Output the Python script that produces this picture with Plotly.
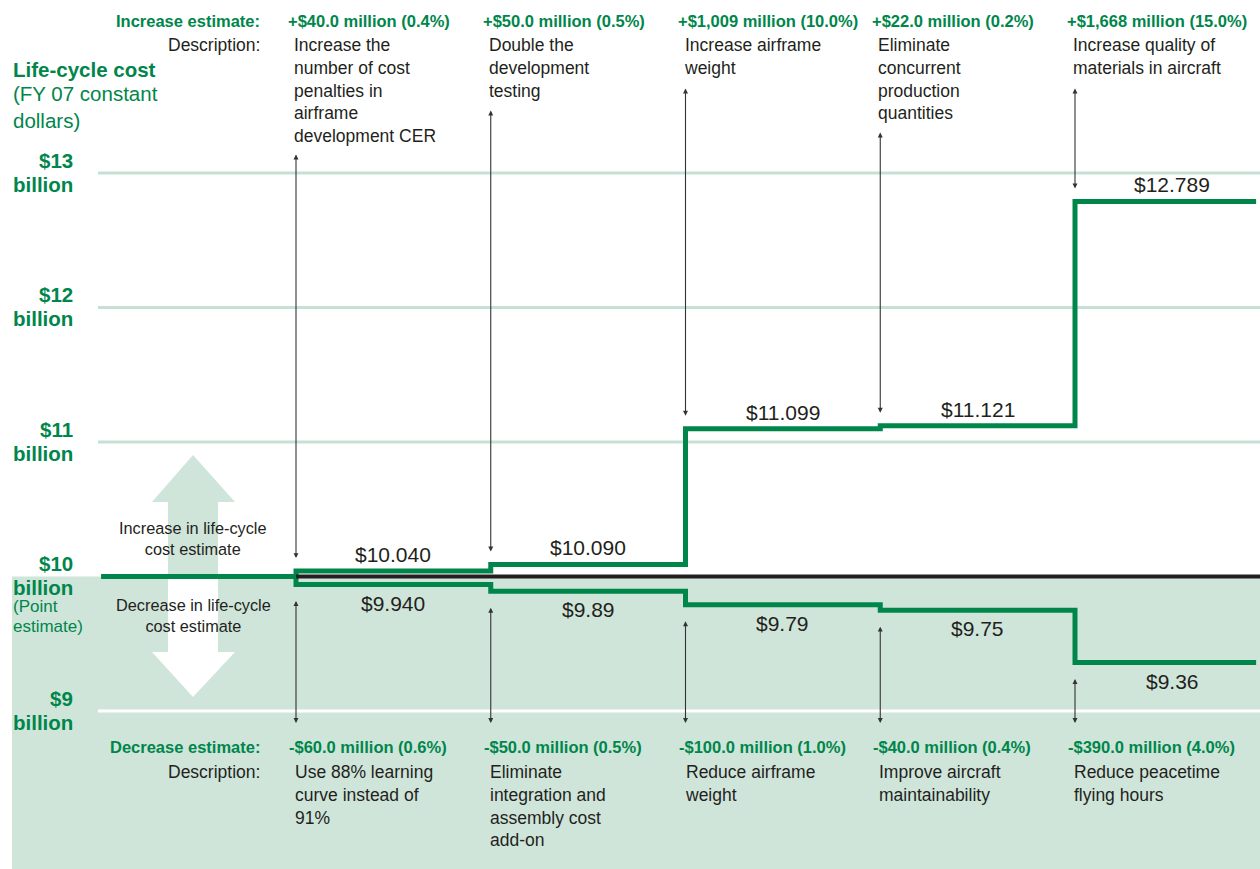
import plotly.graph_objects as go

# step 0 = point estimate, steps 1-5 = each sensitivity change
steps = [0, 1, 2, 3, 4, 5]
upper_cost = [10.0, 10.040, 10.090, 11.099, 11.121, 12.789]
lower_cost = [10.0, 9.940, 9.89, 9.79, 9.75, 9.36]
upper_labels = ["$10.040", "$10.090", "$11.099", "$11.121", "$12.789"]
lower_labels = ["$9.940", "$9.89", "$9.79", "$9.75", "$9.36"]

increase_estimates = ["+$40.0 million (0.4%)", "+$50.0 million (0.5%)", "+$1,009 million (10.0%)",
                      "+$22.0 million (0.2%)", "+$1,668 million (15.0%)"]
increase_desc = [
    ["Increase the", "number of cost", "penalties in", "airframe", "development CER"],
    ["Double the", "development", "testing"],
    ["Increase airframe", "weight"],
    ["Eliminate", "concurrent", "production", "quantities"],
    ["Increase quality of", "materials in aircraft"],
]
decrease_estimates = ["-$60.0 million (0.6%)", "-$50.0 million (0.5%)", "-$100.0 million (1.0%)",
                      "-$40.0 million (0.4%)", "-$390.0 million (4.0%)"]
decrease_desc = [
    ["Use 88% learning", "curve instead of", "91%"],
    ["Eliminate", "integration and", "assembly cost", "add-on"],
    ["Reduce airframe", "weight"],
    ["Improve aircraft", "maintainability"],
    ["Reduce peacetime", "flying hours"],
]
y_ticks = [9, 10, 11, 12, 13]

GREEN = "#00864b"
SHADE = "#cfe5da"
GRID = "#c6e1d3"
DARK = "#231f20"
FONT = "Liberation Sans, Arial, Helvetica, sans-serif"

# body margin is removed in the page, so the figure fills the window
W, H = 1260, 869
PX_PER_B = 134.5
Y0_PX = 576.5
STEP_PX = 194.75


def py(px):
    # screen row -> billions
    return 10 + (Y0_PX - px) / PX_PER_B


def pp(px):
    # screen row -> paper y
    return 1 - px / H


def xp(px):
    # screen column -> paper x
    return px / W


end_x = 5.93
fig = go.Figure()

fig.add_trace(go.Scatter(x=steps + [end_x], y=upper_cost + [upper_cost[-1]], mode="lines",
                         line=dict(color=GREEN, width=5, shape="hv"), hoverinfo="skip"))
fig.add_trace(go.Scatter(x=steps + [end_x], y=lower_cost + [lower_cost[-1]], mode="lines",
                         line=dict(color=GREEN, width=5, shape="hv"), hoverinfo="skip"))
fig.add_trace(go.Scatter(x=[1, 5.96], y=[10, 10], mode="lines",
                         line=dict(color=DARK, width=4), hoverinfo="skip"))

# shaded decrease region
fig.add_shape(type="rect", xref="paper", yref="y", x0=xp(12), x1=1, y0=7.0, y1=10,
              fillcolor=SHADE, line_width=0, layer="below")

# gridlines
for t in y_ticks:
    if t == 10:
        continue
    fig.add_shape(type="line", xref="paper", yref="y", x0=xp(98), x1=1, y0=t, y1=t,
                  line=dict(color="white" if t < 10 else GRID, width=3), layer="below")

# big double arrow (screen pixels)
up_pts = [(193, 455), (235, 502), (218, 502), (218, 576), (168, 576), (168, 502), (152, 502)]
dn_pts = [(168, 576), (218, 576), (218, 652), (235, 652), (193, 697), (152, 652), (168, 652)]


def to_path(pts):
    segs = [f"{'M' if i == 0 else 'L'} {xp(x):.5f} {pp(y):.5f}" for i, (x, y) in enumerate(pts)]
    return " ".join(segs) + " Z"


fig.add_shape(type="path", xref="paper", yref="paper", path=to_path(up_pts),
              fillcolor=SHADE, line_width=0, layer="below")
fig.add_shape(type="path", xref="paper", yref="paper", path=to_path(dn_pts),
              fillcolor="white", line_width=0, layer="below")

ann = []


def text(x, y, s, size, color=DARK, bold=False, xanchor="left", yanchor="middle",
         align="left", xref="paper", yref="paper", xshift=0, yshift=0):
    ann.append(dict(x=x, y=y, xref=xref, yref=yref, text=f"<b>{s}</b>" if bold else s,
                    showarrow=False, xanchor=xanchor, yanchor=yanchor, align=align,
                    xshift=xshift, yshift=yshift,
                    font=dict(family=FONT, size=size, color=color)))


def arrow(x, y_tip, y_tail):
    ann.append(dict(x=x, y=y_tip, ax=x, ay=y_tail, xref="x", yref="y", axref="x", ayref="y",
                    text="", showarrow=True, arrowhead=2, arrowside="end+start",
                    arrowsize=0.9, arrowwidth=1.1, arrowcolor="#333333", standoff=0,
                    startstandoff=0, startarrowhead=2, startarrowsize=0.9))


# left axis labels
text(xp(11), pp(70), "Life-cycle cost", 20.5, GREEN, bold=True)
text(xp(11), pp(80), "(FY 07 constant<br>dollars)", 20.5, GREEN, yanchor="top")
for t in y_ticks:
    text(xp(75), t, f"${t}", 20.5, GREEN, bold=True, xanchor="right", yref="y", yshift=13)
    text(xp(75), t, "billion", 20.5, GREEN, bold=True, xanchor="right", yref="y", yshift=-11)
text(xp(11), pp(606), "(Point", 17, GREEN)
text(xp(11), pp(626), "estimate)", 17, GREEN)

text(xp(193), pp(538), "Increase in life-cycle<br>cost estimate", 16.3, xanchor="center", align="center")
text(xp(193), pp(615), "Decrease in life-cycle<br>cost estimate", 16.3, xanchor="center", align="center")

# headers
text(xp(262), pp(21), "Increase estimate:", 16.5, GREEN, bold=True, xanchor="right")
text(xp(262), pp(45), "Description:", 17.5, xanchor="right")
text(xp(262), pp(747), "Decrease estimate:", 16.5, GREEN, bold=True, xanchor="right")
text(xp(262), pp(772), "Description:", 17.5, xanchor="right")

for k in range(1, 6):
    i = k - 1
    text(k, pp(21), increase_estimates[i], 16.5, GREEN, bold=True, xref="x", xshift=-10)
    text(k, pp(33), "<br>".join(increase_desc[i]), 17.5, xref="x", yanchor="top", xshift=-4)
    text(k, pp(747), decrease_estimates[i], 16.5, GREEN, bold=True, xref="x", xshift=-9)
    text(k, pp(760), "<br>".join(decrease_desc[i]), 17.5, xref="x", yanchor="top", xshift=-3)

    # value labels
    text(k + 0.5, upper_cost[k], upper_labels[i], 21, xref="x", yref="y",
         xanchor="center", yanchor="bottom", yshift=3)
    text(k + 0.5, lower_cost[k], lower_labels[i], 21, xref="x", yref="y",
         xanchor="center", yanchor="top", yshift=-5)

    # connector arrows
    top_px = 45 + 22 * (len(increase_desc[i]) - 1) + 20
    arrow(k, upper_cost[k] + 13 / PX_PER_B, py(top_px))
    arrow(k, py(723), lower_cost[k] - 15 / PX_PER_B)

fig.update_layout(
    width=W, height=H,
    margin=dict(l=0, r=0, t=0, b=0),
    paper_bgcolor="white", plot_bgcolor="white",
    showlegend=False,
    xaxis=dict(range=[1 - 296 / STEP_PX, 1 + (W - 296) / STEP_PX],
               visible=False, fixedrange=True),
    yaxis=dict(range=[py(H), py(0)], visible=False, fixedrange=True),
    annotations=ann,
)

fig.write_html("out.html", config={"displayModeBar": False},
               post_script="document.body.style.margin='0';document.body.style.overflow='hidden';")
